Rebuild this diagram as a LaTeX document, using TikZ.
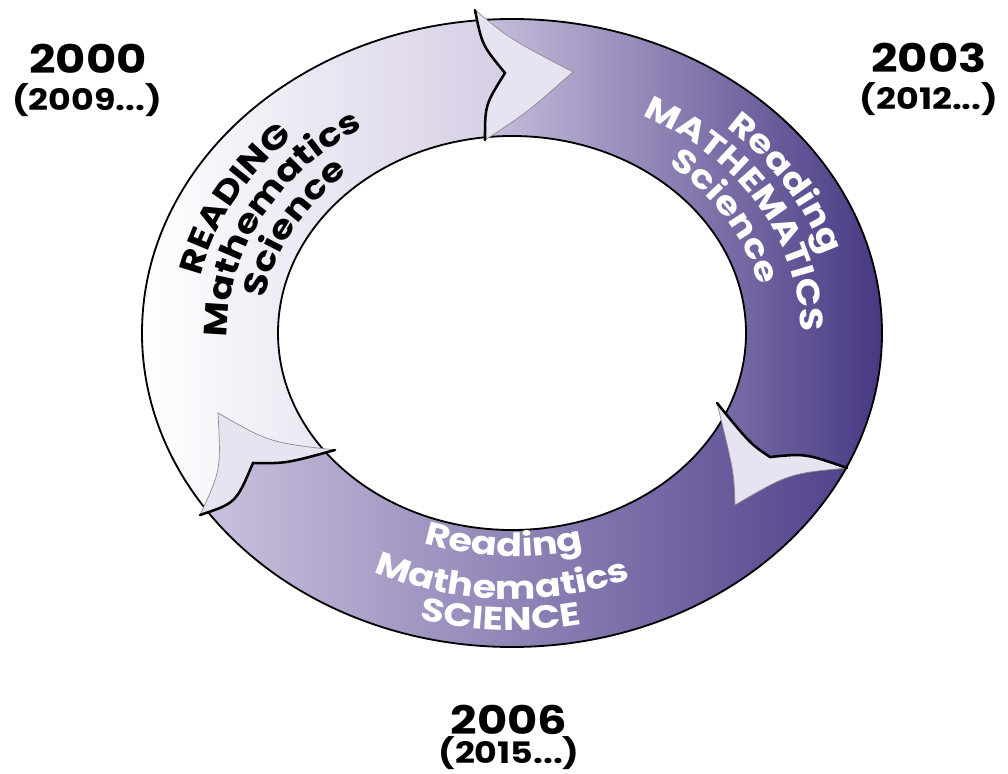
\documentclass[tikz,border=0pt]{standalone}
\usepackage{fontspec}
\usetikzlibrary{decorations.text}
\newfontfamily\gothic[FakeStretch=1.18]{Poppins}
\definecolor{lavlight}{RGB}{232,227,240}
\definecolor{lavleft}{RGB}{214,206,229}
\definecolor{lavmid}{RGB}{204,195,223}
\definecolor{indigo}{RGB}{70,55,130}
\definecolor{indigobot}{RGB}{82,66,140}
\newcommand{\ringfont}{\gothic\bfseries\fontsize{23}{26}\selectfont}
% text along an arc of the ring: colour, x radius, y radius, start, end, text
\newcommand{\ringtext}[6]{%
  \path[decorate, decoration={text along path, text align=center, text color=#1,
      text={|\ringfont|#6}}]
    (C) ++(#4:#2 and #3) arc[start angle=#4, end angle=#5, x radius=#2, y radius=#3];}

\begin{document}
\begin{tikzpicture}[x=0.25mm, y=-0.25mm,
ring/.style={draw=black, line width=1.3pt},
head/.style={fill=lavlight, draw=black!45, line width=0.5pt},
notch/.style={draw=black, line width=1.8pt, line cap=round},
year/.style={font=\gothic\bfseries\fontsize{28}{30}\selectfont, inner sep=0pt},
again/.style={font=\gothic\bfseries\fontsize{21}{24}\selectfont, inner sep=0pt},
]
\useasboundingbox (0,0) rectangle (1008,774);
\coordinate (C) at (512,333);
% arrow heads: outer end, notch, inner end, tip
\coordinate (O1) at (475,10);  \coordinate (N1) at (505,73);
\coordinate (I1) at (485,140); \coordinate (T1) at (573,72);
\coordinate (O2) at (847,468); \coordinate (N2) at (770,457);
\coordinate (I2) at (717,403); \coordinate (T2) at (735,505);
\coordinate (O3) at (200,515); \coordinate (N3) at (253,463);
\coordinate (I3) at (335,450); \coordinate (T3) at (218,413);

% the three parts of the ring
\begin{scope}
\clip (C) ellipse [x radius=370, y radius=314];
\begin{scope}
\clip (C) -- (I3) .. controls (286,463.5) .. (N3) .. controls (236,503) .. (O3)
  -- (100,570) -- (-50,570) -- (-50,-50) -- (470,-50)
  -- (O1) .. controls (482,45) .. (N1) .. controls (485,105) .. (I1) -- cycle;
\shade[left color=white, right color=lavleft] (140,0) rectangle (505,774);
\end{scope}
\begin{scope}
\clip (C) -- (I1) .. controls (485,105) .. (N1) .. controls (482,45) .. (O1)
  -- (470,-50) -- (1050,-50) -- (1050,500)
  -- (O2) .. controls (805.5,453.5) .. (N2) .. controls (750.5,444) .. (I2) -- cycle;
\shade[left color=lavmid, right color=indigo] (470,0) rectangle (885,774);
\end{scope}
\begin{scope}
\clip (C) -- (I2) .. controls (750.5,444) .. (N2) .. controls (805.5,453.5) .. (O2)
  -- (1050,500) -- (1050,800) -- (-50,800) -- (-50,570) -- (100,570)
  -- (O3) .. controls (236,503) .. (N3) .. controls (286,463.5) .. (I3) -- cycle;
\shade[left color=lavmid, right color=indigobot] (195,0) rectangle (850,774);
\end{scope}
\end{scope}
\fill[white] (C) ellipse [x radius=234, y radius=197];
\draw[ring] (C) ellipse [x radius=370, y radius=314];
\draw[ring] (C) ellipse [x radius=234, y radius=197];

% heads
\draw[head] (O1) .. controls (510,39) .. (T1) .. controls (525,114) .. (I1)
  .. controls (485,105) .. (N1) .. controls (482,45) .. cycle;
\draw[notch] (O1) .. controls (482,45) .. (N1) .. controls (485,105) .. (I1);
\draw[head] (I2) .. controls (734,472) .. (T2) .. controls (789,473.5) .. (O2)
  .. controls (805.5,453.5) .. (N2) .. controls (750.5,444) .. cycle;
\draw[notch] (I2) .. controls (750.5,444) .. (N2) .. controls (805.5,453.5) .. (O2);
\draw[head] (T3) .. controls (221,470) .. (O3) .. controls (236,503) .. (N3)
  .. controls (286,463.5) .. (I3) .. controls (269.5,442.5) .. cycle;
\draw[notch] (O3) .. controls (236,503) .. (N3) .. controls (286,463.5) .. (I3);

% texts in the ring
\ringtext{black}{318.3}{269.5}{168}{248}{READING}
\ringtext{black}{284.3}{240.3}{168}{248}{Mathematics}
\ringtext{black}{250.3}{211}{168}{248}{Science}
\ringtext{white}{323.8}{274.2}{289}{369}{Reading}
\ringtext{white}{288.4}{243.8}{289}{369}{MATHEMATICS}
\ringtext{white}{253}{213.4}{289}{369}{Science}
\ringtext{white}{264}{223.5}{132}{52}{Reading}
\ringtext{white}{312.9}{266}{132}{52}{Mathematics}
\ringtext{white}{348.2}{297}{132}{52}{SCIENCE}

% years
\node[year] (y2000) at (88,59) {2000};
\node[again] (r2000) at (87,100) {(2009...)};
\node[year] (y2003) at (929,58) {2003};
\node[again] (r2003) at (929,99) {(2012...)};
\node[year] (y2006) at (509,720) {2006};
\node[again] (r2006) at (509,753) {(2015...)};
\end{tikzpicture}
\end{document}
